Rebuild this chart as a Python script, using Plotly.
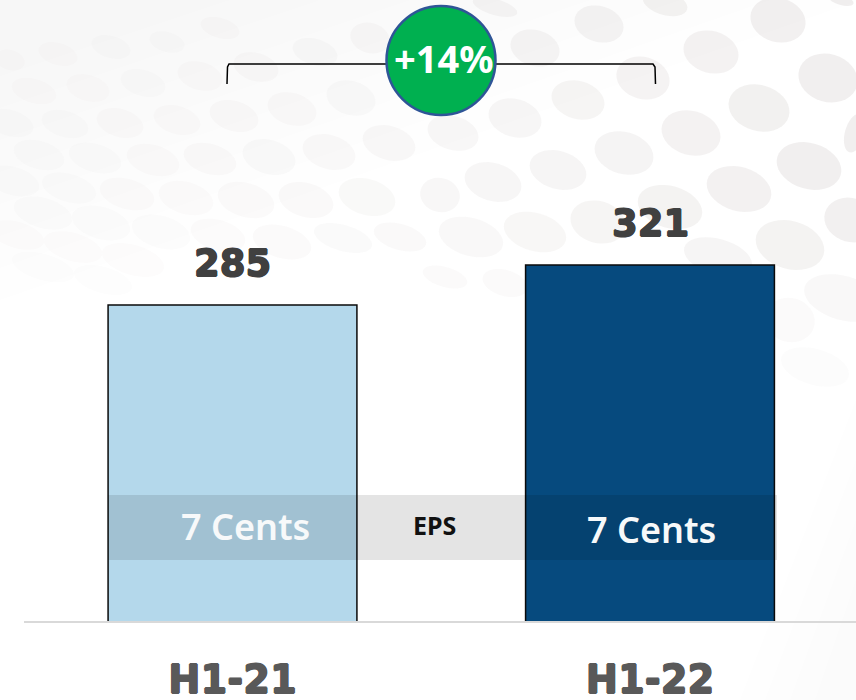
import math
import plotly.graph_objects as go

# ---- data ----
categories = ["H1-21", "H1-22"]
values = [285, 321]
band_labels = ["7 Cents", "7 Cents"]
growth_label = "+14%"
band_title = "EPS"

# ---- decorative background dots (cx, cy, rx, ry in page pixels) ----
dots = [
 (599,24,25,18),(665,3,23,12),(778,20,28,22),(711,52,28,21),(535,48,25,18),(828,78,30,24),
 (643,78,27,21),(578,100,27,19),(759,108,31,23),(515,118,27,19),(691,133,30,22),(453,133,26,17),
 (809,166,33,23),(624,153,30,21),(558,170,29,19),(493,182,29,19),(440,195,20,17),(739,189,33,22),
 (851,220,27,22),(670,207,33,21),(598,222,28,21),(535,232,32,19),(471,237,33,19),(790,245,35,24),
 (718,257,35,18),(843,298,40,22),(790,320,25,22),(815,367,35,18),(855,133,10,20),(505,283,23,13),
 (445,277,23,10),(841,0,13,5),(495,7,23,8),
 (58,54,20,11),(111,47,20,11),(10,60,15,10),(167,42,18,10),(220,28,20,10),(256,67,23,14),
 (200,76,23,14),(143,83,23,13),(88,88,22,13),(34,91,23,12),(315,52,23,13),(370,38,20,15),
 (351,98,25,17),(292,109,25,16),(234,116,25,15),(177,120,24,14),(120,123,24,14),(65,124,24,13),
 (10,123,24,13),(389,143,27,17),(329,152,27,17),(269,157,27,17),(210,159,27,15),(153,160,27,15),
 (95,158,27,14),(39,155,26,14),(367,197,29,18),(306,200,28,17),(246,200,29,17),
 (186,198,28,16),(127,194,28,15),(69,188,28,14),(13,181,27,14),(400,237,27,13),(343,238,30,13),
 (282,242,30,16),(218,235,28,15),(161,232,30,16),(101,223,30,16),(43,213,30,15),(17,235,28,13),
 (73,247,30,14),(133,260,32,15),(43,267,32,13),(103,280,30,13),
]

W, H, BASE = 856, 700, 622
px = lambda x: x / W
py = lambda y: (BASE - y) / BASE


def path(points, close=True):
    s = "M " + " L ".join(f"{px(x):.5f},{py(y):.5f}" for x, y in points)
    return s + (" Z" if close else "")


def ellipse(cx, cy, rx, ry, deg=16, n=36):
    a = math.radians(deg)
    pts = []
    for i in range(n):
        t = 2 * math.pi * i / n
        ex, ey = rx * math.cos(t), ry * math.sin(t)
        pts.append((cx + ex * math.cos(a) - ey * math.sin(a), cy + ex * math.sin(a) + ey * math.cos(a)))
    return path(pts)


shapes = []
# soft grey wash in the top-left corner
for i in range(8):
    w, h = 860 - i * 90, 300 - i * 32
    shapes.append(dict(type="path", xref="paper", yref="paper", layer="below", line_width=0,
                       fillcolor="rgba(120,110,100,0.007)", path=path([(0, 0), (w, 0), (0, h)])))
# faint warm wash in the bottom-right corner
for i in range(4):
    shapes.append(dict(type="path", xref="paper", yref="paper", layer="below", line_width=0,
                       fillcolor="rgba(170,140,110,0.008)",
                       path=path([(856, 700), (856, 400 + i * 60), (740 + i * 25, 700)])))
for cx, cy, rx, ry in dots:
    strength = 0.018 + 0.075 * min(cx / 800, 1) ** 1.6
    if cy < 110 and cx < 420:
        strength *= 0.85
    if cy > 215:
        strength *= max(0.22, 1 - (cy - 215) / 150)
    shapes.append(dict(type="path", xref="paper", yref="paper", layer="below", line_width=0,
                       fillcolor=f"rgba(110,90,85,{strength:.3f})", path=ellipse(cx, cy, rx, ry)))

# bracket above the bars
shapes.append(dict(type="path", xref="paper", yref="paper", layer="above",
                   line=dict(color="#000000", width=1.5),
                   path=path([(227, 84), (227.5, 67), (229, 64), (653, 64), (655, 67), (655.5, 84)], close=False)))
# growth circle
shapes.append(dict(type="circle", xref="paper", yref="paper", layer="above",
                   x0=px(386.5), x1=px(495.5), y0=py(115), y1=py(6),
                   fillcolor="#00B050", line=dict(color="#2F5597", width=2.5)))
# EPS band
shapes.append(dict(type="rect", xref="paper", yref="paper", layer="above", line_width=0,
                   x0=px(108), x1=px(777), y0=py(560), y1=py(495), fillcolor="rgba(0,0,0,0.105)"))
# baseline
shapes.append(dict(type="line", xref="paper", yref="paper", layer="above",
                   x0=px(24), x1=1, y0=0, y1=0, line=dict(color="#D9D9D9", width=2)))

fig = go.Figure(go.Bar(
    x=[0, 1], y=values, width=0.596,
    marker=dict(color=["#B4D8EB", "#064A7E"], line=dict(color="#0a0a0a", width=1.5)),
    hoverinfo="skip",
))

BOLD = "DejaVu Sans"
heavy = lambda c: f"0.7px 0 0 {c}, -0.7px 0 0 {c}, 0 0.7px 0 {c}, 0 -0.7px 0 {c}"
annotations = []
for i, v in enumerate(values):
    annotations.append(dict(x=i, y=v, xref="x", yref="y", text=str(v), showarrow=False, yanchor="bottom",
                            xanchor="center", yshift=18,
                            font=dict(family=BOLD, size=37, color="#404040", weight=700, shadow=heavy("#404040"))))
label_pos = [(245, 526), (651, 529)]
for (lx, ly), t in zip(label_pos, band_labels):
    annotations.append(dict(x=px(lx), y=py(ly), xref="paper", yref="paper", text=t, showarrow=False,
                            xanchor="center", yanchor="middle",
                            font=dict(family="Noto Sans", size=36, color="#F7F9FA", weight=600)))
annotations.append(dict(x=px(434), y=py(525), xref="paper", yref="paper", text=band_title, showarrow=False,
                        xanchor="center", yanchor="middle",
                        font=dict(family="Noto Sans", size=25, color="#111111", weight=700)))
annotations.append(dict(x=px(443.5), y=py(58), xref="paper", yref="paper", text=growth_label, showarrow=False,
                        xanchor="center", yanchor="middle",
                        font=dict(family="Noto Sans", size=38, color="#FFFFFF", weight=700)))

fig.update_layout(
    width=W, height=H, margin=dict(l=0, r=0, t=0, b=H - BASE, pad=0), autosize=False,
    paper_bgcolor="white", plot_bgcolor="rgba(0,0,0,0)", showlegend=False,
    shapes=shapes, annotations=annotations,
    xaxis=dict(range=[-232.5 / 417.5, (W - 232.5) / 417.5], tickvals=[0, 1], ticktext=categories,
               showgrid=False, zeroline=False, showline=False, ticks="outside", ticklen=24,
               automargin=False, tickcolor="rgba(0,0,0,0)",
               tickfont=dict(family=BOLD, size=38.5, color="#595959", weight=700, shadow=heavy("#595959")),
               fixedrange=True),
    yaxis=dict(range=[0, BASE / (317 / 285)], visible=False, fixedrange=True, automargin=False),
)

fig.write_html("out.html", config=dict(displayModeBar=False),
               post_script="document.body.style.margin='0';document.body.style.overflow='hidden';")
